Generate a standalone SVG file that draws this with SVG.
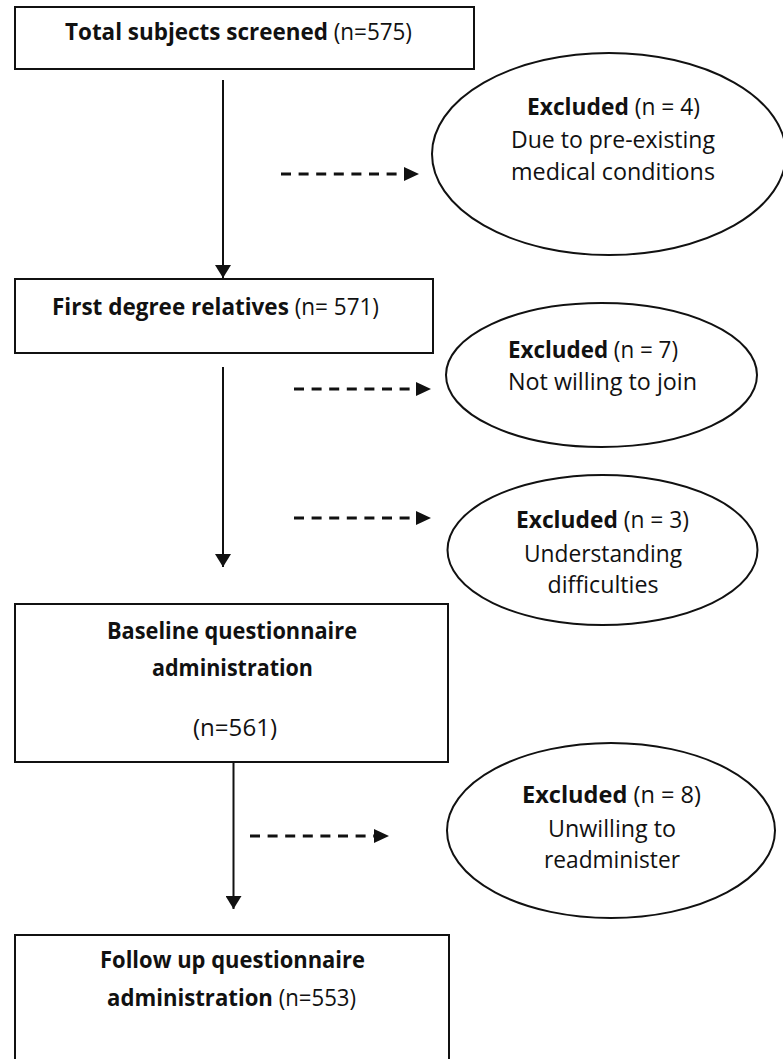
<svg xmlns="http://www.w3.org/2000/svg" width="783" height="1059" viewBox="0 0 783 1059">
<style>
.box{fill:#fff;stroke:#111;stroke-width:2}
.ell{fill:#fff;stroke:#111;stroke-width:2}
.t{font-family:"Open Sans",Lato,"Liberation Sans",sans-serif;font-size:23px;fill:#111;text-anchor:middle}
.b{font-weight:bold}
.solid{stroke:#111;stroke-width:2;fill:none}
.dash{stroke:#111;stroke-width:3;fill:none;stroke-dasharray:10 7.6}
</style>
<defs>
<marker id="ah" markerUnits="userSpaceOnUse" markerWidth="16" markerHeight="16" refX="13" refY="8" orient="auto"><path d="M0,0 L13,8 L0,16 Z" fill="#111"/></marker>
</defs>
<rect width="783" height="1059" fill="#fff"/>
<g id="connectors">
<path class="solid" d="M223,80 V278" marker-end="url(#ah)"/>
<path class="solid" d="M223,367 V567" marker-end="url(#ah)"/>
<path class="solid" d="M233.5,762 V909" marker-end="url(#ah)"/>
<path class="dash" d="M281,174 H410"/>
<path d="M404,167 L419,174 L404,181 Z" fill="#111"/>
<path class="dash" d="M294,389 H422"/>
<path d="M416,382 L431,389 L416,396 Z" fill="#111"/>
<path class="dash" d="M294,518 H422"/>
<path d="M416,511 L431,518 L416,525 Z" fill="#111"/>
<path class="dash" d="M250,836 H380"/>
<path d="M374,829 L389,836 L374,843 Z" fill="#111"/>
</g>
<g id="n1">
<rect class="box" x="15" y="7" width="459" height="62"/>
<text class="t" x="238.5" y="40" textLength="347" lengthAdjust="spacingAndGlyphs"><tspan class="b">Total subjects screened</tspan> (n=575)</text>
</g>
<g id="e1">
<ellipse class="ell" cx="609" cy="154" rx="177" ry="101"/>
<text class="t" x="613.5" y="115" textLength="173" lengthAdjust="spacingAndGlyphs"><tspan class="b">Excluded</tspan> (n = 4)</text>
<text class="t" x="613" y="148" textLength="204" lengthAdjust="spacingAndGlyphs">Due to pre-existing</text>
<text class="t" x="613" y="180" textLength="204" lengthAdjust="spacingAndGlyphs">medical conditions</text>
</g>
<g id="n2">
<rect class="box" x="15" y="279" width="418" height="74"/>
<text class="t" x="215.5" y="315" textLength="327" lengthAdjust="spacingAndGlyphs"><tspan class="b">First degree relatives</tspan> (n= 571)</text>
</g>
<g id="e2">
<ellipse class="ell" cx="601.5" cy="375" rx="155.5" ry="72"/>
<text class="t" x="593" y="358" textLength="170" lengthAdjust="spacingAndGlyphs"><tspan class="b">Excluded</tspan> (n = 7)</text>
<text class="t" x="602.5" y="390" textLength="189" lengthAdjust="spacingAndGlyphs">Not willing to join</text>
</g>
<g id="e3">
<ellipse class="ell" cx="602.5" cy="550" rx="155" ry="75"/>
<text class="t" x="602.5" y="528" textLength="173" lengthAdjust="spacingAndGlyphs"><tspan class="b">Excluded</tspan> (n = 3)</text>
<text class="t" x="603" y="562" textLength="158" lengthAdjust="spacingAndGlyphs">Understanding</text>
<text class="t" x="603" y="593" textLength="111" lengthAdjust="spacingAndGlyphs">difficulties</text>
</g>
<g id="n3">
<rect class="box" x="15" y="604" width="433" height="158"/>
<text class="t b" x="232" y="639" textLength="250" lengthAdjust="spacingAndGlyphs">Baseline questionnaire</text>
<text class="t b" x="232.5" y="676" textLength="161" lengthAdjust="spacingAndGlyphs">administration</text>
<text class="t" x="235" y="736" textLength="84" lengthAdjust="spacingAndGlyphs">(n=561)</text>
</g>
<g id="e4">
<ellipse class="ell" cx="611" cy="830.5" rx="164" ry="87.5"/>
<text class="t" x="611.5" y="803" textLength="179" lengthAdjust="spacingAndGlyphs"><tspan class="b">Excluded</tspan> (n = 8)</text>
<text class="t" x="612" y="837" textLength="128" lengthAdjust="spacingAndGlyphs">Unwilling to</text>
<text class="t" x="612" y="868" textLength="136" lengthAdjust="spacingAndGlyphs">readminister</text>
</g>
<g id="n4">
<rect class="box" x="15" y="935" width="434" height="200"/>
<text class="t b" x="232.5" y="968" textLength="265" lengthAdjust="spacingAndGlyphs">Follow up questionnaire</text>
<text class="t" x="231.5" y="1006" textLength="249" lengthAdjust="spacingAndGlyphs"><tspan class="b">administration</tspan> (n=553)</text>
</g>
</svg>
